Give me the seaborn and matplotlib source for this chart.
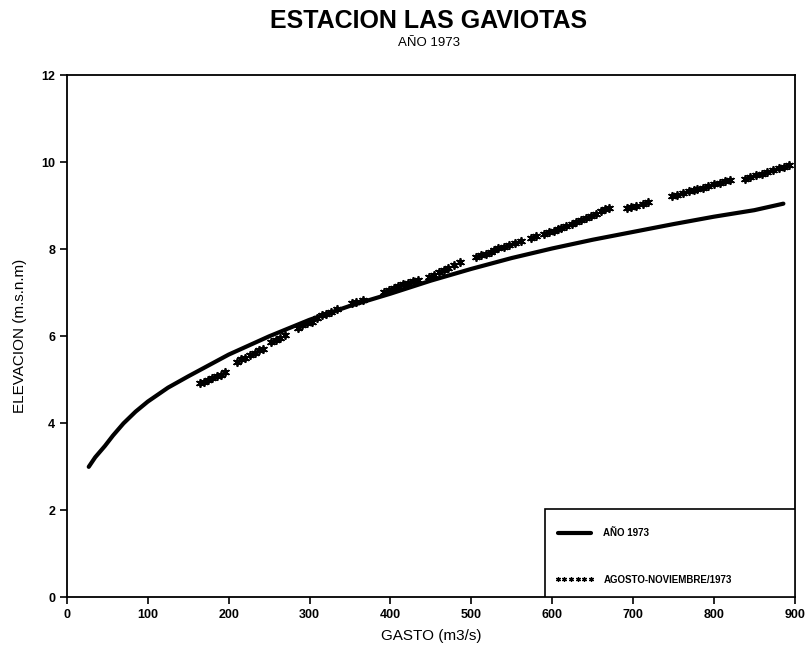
import matplotlib
matplotlib.use("Agg")
import matplotlib.pyplot as plt
import seaborn as sns
import pandas as pd
from matplotlib.lines import Line2D
from matplotlib.patches import Rectangle

# Rating curve (AÑO 1973)
gasto_curva = [27, 35, 47, 57, 70, 85, 100, 125, 150, 200, 250, 300, 350, 400, 450, 500,
               550, 600, 650, 700, 750, 800, 850, 886]
elev_curva = [3.0, 3.22, 3.48, 3.72, 4.0, 4.27, 4.5, 4.82, 5.08, 5.58, 6.0, 6.38, 6.7,
              6.98, 7.28, 7.55, 7.8, 8.02, 8.22, 8.4, 8.58, 8.75, 8.9, 9.05]

# Observed points (AGOSTO-NOVIEMBRE/1973)
gasto_obs = [165, 170, 175, 180, 185, 190, 196,
             210, 215, 220, 226,
             232, 237, 243,
             253, 258, 264, 270,
             286, 291, 297, 303,
             309, 315, 321, 327, 334,
             352, 358, 366,
             392, 398, 404, 410, 416, 422, 428, 434,
             448, 454, 460, 466, 471,
             479, 486,
             506, 512, 518, 524, 528,
             533, 540, 547, 554, 562,
             574, 580,
             590, 596, 602, 607,
             611, 617, 624, 630, 636, 642, 648, 654, 660, 666, 670,
             692, 698, 704, 712, 719,
             748, 755, 762, 769, 776,
             779, 786, 793, 800, 807, 814, 820,
             838, 845, 852, 859, 866, 873, 880, 887, 893]
elev_obs = [4.92, 4.95, 5.0, 5.05, 5.08, 5.12, 5.18,
            5.42, 5.47, 5.5, 5.56,
            5.62, 5.68, 5.72,
            5.88, 5.92, 5.97, 6.03,
            6.2, 6.25, 6.3, 6.33,
            6.42, 6.48, 6.52, 6.57, 6.62,
            6.76, 6.8, 6.84,
            7.02, 7.07, 7.12, 7.16, 7.2, 7.22, 7.27, 7.3,
            7.37, 7.42, 7.47, 7.52, 7.57,
            7.63, 7.7,
            7.82, 7.86, 7.9, 7.94, 7.98,
            8.02, 8.06, 8.1, 8.15, 8.2,
            8.25, 8.3,
            8.35, 8.39, 8.43, 8.47,
            8.49, 8.54, 8.58, 8.62, 8.67, 8.72, 8.77, 8.82, 8.87, 8.92, 8.96,
            8.95, 8.98, 9.0, 9.04, 9.08,
            9.22, 9.26, 9.3, 9.33, 9.36,
            9.38, 9.42, 9.46, 9.5, 9.53, 9.56, 9.59,
            9.62, 9.66, 9.7, 9.74, 9.78, 9.82, 9.86, 9.9, 9.93]

x_ticks = [0, 100, 200, 300, 400, 500, 600, 700, 800, 900]
y_ticks = [0, 2, 4, 6, 8, 10, 12]

titulo = "ESTACION LAS GAVIOTAS"
subtitulo = "AÑO 1973"
x_label = "GASTO (m3/s)"
y_label = "ELEVACION (m.s.n.m)"
leyenda = ["AÑO 1973", "AGOSTO-NOVIEMBRE/1973"]

sns.set_style("ticks")
plt.rcParams['font.family'] = ['Liberation Sans', 'DejaVu Sans']
plt.rcParams['text.color'] = 'black'
plt.rcParams['axes.labelcolor'] = 'black'

df_curva = pd.DataFrame({"gasto": gasto_curva, "elev": elev_curva})
df_obs = pd.DataFrame({"gasto": gasto_obs, "elev": elev_obs})

fig = plt.figure(figsize=(8.06, 6.55), dpi=100)
ax = fig.add_axes([0.083, 0.088, 0.903, 0.797])

asterisk = (6, 2, 0)
sns.scatterplot(data=df_obs, x="gasto", y="elev", ax=ax, marker=asterisk, s=28,
                color="black", linewidth=1.3, edgecolor="black", legend=False, zorder=3)
sns.lineplot(data=df_curva, x="gasto", y="elev", ax=ax, color="black", linewidth=3.0,
             legend=False, zorder=2)

ax.set_xlim(0, 900)
ax.set_ylim(0, 12)
ax.set_xticks(x_ticks)
ax.set_yticks(y_ticks)
ax.tick_params(direction="out", length=5, width=1.2, labelsize=9, colors="black")
for lab in ax.get_xticklabels() + ax.get_yticklabels():
    lab.set_fontweight("bold")
for sp in ax.spines.values():
    sp.set_visible(True)
    sp.set_color("black")
    sp.set_linewidth(1.3)

ax.set_xlabel(x_label, fontsize=11, labelpad=6)
ax.set_ylabel(y_label, fontsize=11, labelpad=10)

fig.text(0.532, 0.968, titulo, ha="center", va="center", fontsize=18, fontweight="bold")
fig.text(0.532, 0.935, subtitulo, ha="center", va="center", fontsize=9.5)

# legend frame
ax.add_patch(Rectangle((0.657, 0.0), 0.343, 0.17, transform=ax.transAxes,
                       fill=True, facecolor="white", edgecolor="black",
                       linewidth=1.2, zorder=4))

handles = [Line2D([], [], color="black", linewidth=3.0),
           Line2D([], [], color="black", linestyle="none", marker=asterisk,
                  markersize=3.5, markeredgewidth=0.9)]
leg = ax.legend(handles, leyenda, loc="lower left",
                bbox_to_anchor=(0.657, 0.006, 0.343, 0.16), mode="expand",
                borderaxespad=0, frameon=False,
                labelspacing=3.75, handlelength=4.0, numpoints=6, fontsize=7,
                borderpad=1.0, handletextpad=1.0)
leg.set_zorder(5)
for t in leg.get_texts():
    t.set_fontweight("bold")

fig.savefig("out.png", dpi=100)
